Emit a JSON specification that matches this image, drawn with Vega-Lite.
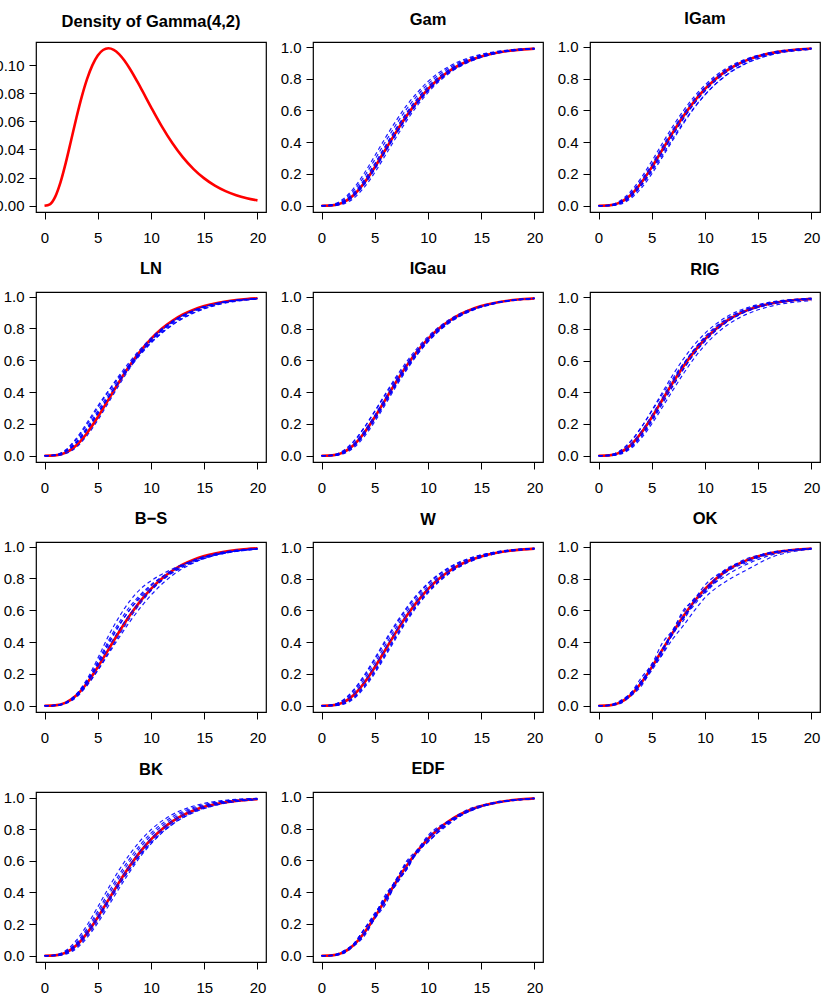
{
"$schema": "https://vega.github.io/schema/vega-lite/v6.json",
"background": "white",
"padding": {"left": -6, "top": 10, "right": 0, "bottom": 0},
"config": {
  "font": "Liberation Sans",
  "view": {"stroke": "black", "strokeWidth": 1.2},
  "axis": {"domain": false, "grid": false, "tickColor": "black", "tickSize": 7, "tickWidth": 1, "labelColor": "black", "labelFont": "Liberation Sans", "labelFontSize": 15},
  "axisX": {"labelPadding": 11},
  "axisY": {"labelPadding": 5},
  "header": {"labelFont": "Liberation Sans", "labelFontSize": 16.5, "labelFontWeight": "bold", "labelColor": "black", "labelPadding": 12}
},
"data": {"values": [
{"panel":"Density of Gamma(4,2)","s":"red","x":[0,0.5,1,1.5,2,2.5,3,3.5,4,4.5,5,5.5,6,6.5,7,7.5,8,9,10,11,12,13,14,15,16,17,18,19,20],"y":[0,0.00101,0.00632,0.01661,0.03066,0.04663,0.06276,0.07761,0.09022,0.10005,0.10688,0.11079,0.11202,0.11092,0.10789,0.10335,0.09768,0.08436,0.07019,0.05666,0.04462,0.03441,0.02607,0.01945,0.01431,0.01041,0.0075,0.00535,0.00378]},
{"panel":"Gam","s":"red","x":[0,1,2,3,4,5,6,7,8,9,10,11,12,13,14,15,16,17,18,19,20],"y":[0,0.0018,0.019,0.0656,0.1429,0.2424,0.3528,0.4634,0.5665,0.6577,0.735,0.7983,0.8488,0.8882,0.9182,0.9409,0.9576,0.9699,0.9788,0.9851,0.9897]},
{"panel":"IGam","s":"red","x":[0,1,2,3,4,5,6,7,8,9,10,11,12,13,14,15,16,17,18,19,20],"y":[0,0.0018,0.019,0.0656,0.1429,0.2424,0.3528,0.4634,0.5665,0.6577,0.735,0.7983,0.8488,0.8882,0.9182,0.9409,0.9576,0.9699,0.9788,0.9851,0.9897]},
{"panel":"LN","s":"red","x":[0,1,2,3,4,5,6,7,8,9,10,11,12,13,14,15,16,17,18,19,20],"y":[0,0.0018,0.019,0.0656,0.1429,0.2424,0.3528,0.4634,0.5665,0.6577,0.735,0.7983,0.8488,0.8882,0.9182,0.9409,0.9576,0.9699,0.9788,0.9851,0.9897]},
{"panel":"IGau","s":"red","x":[0,1,2,3,4,5,6,7,8,9,10,11,12,13,14,15,16,17,18,19,20],"y":[0,0.0018,0.019,0.0656,0.1429,0.2424,0.3528,0.4634,0.5665,0.6577,0.735,0.7983,0.8488,0.8882,0.9182,0.9409,0.9576,0.9699,0.9788,0.9851,0.9897]},
{"panel":"RIG","s":"red","x":[0,1,2,3,4,5,6,7,8,9,10,11,12,13,14,15,16,17,18,19,20],"y":[0,0.0018,0.019,0.0656,0.1429,0.2424,0.3528,0.4634,0.5665,0.6577,0.735,0.7983,0.8488,0.8882,0.9182,0.9409,0.9576,0.9699,0.9788,0.9851,0.9897]},
{"panel":"B−S","s":"red","x":[0,1,2,3,4,5,6,7,8,9,10,11,12,13,14,15,16,17,18,19,20],"y":[0,0.0018,0.019,0.0656,0.1429,0.2424,0.3528,0.4634,0.5665,0.6577,0.735,0.7983,0.8488,0.8882,0.9182,0.9409,0.9576,0.9699,0.9788,0.9851,0.9897]},
{"panel":"W","s":"red","x":[0,1,2,3,4,5,6,7,8,9,10,11,12,13,14,15,16,17,18,19,20],"y":[0,0.0018,0.019,0.0656,0.1429,0.2424,0.3528,0.4634,0.5665,0.6577,0.735,0.7983,0.8488,0.8882,0.9182,0.9409,0.9576,0.9699,0.9788,0.9851,0.9897]},
{"panel":"OK","s":"red","x":[0,1,2,3,4,5,6,7,8,9,10,11,12,13,14,15,16,17,18,19,20],"y":[0,0.0018,0.019,0.0656,0.1429,0.2424,0.3528,0.4634,0.5665,0.6577,0.735,0.7983,0.8488,0.8882,0.9182,0.9409,0.9576,0.9699,0.9788,0.9851,0.9897]},
{"panel":"BK","s":"red","x":[0,1,2,3,4,5,6,7,8,9,10,11,12,13,14,15,16,17,18,19,20],"y":[0,0.0018,0.019,0.0656,0.1429,0.2424,0.3528,0.4634,0.5665,0.6577,0.735,0.7983,0.8488,0.8882,0.9182,0.9409,0.9576,0.9699,0.9788,0.9851,0.9897]},
{"panel":"EDF","s":"red","x":[0,1,2,3,4,5,6,7,8,9,10,11,12,13,14,15,16,17,18,19,20],"y":[0,0.0018,0.019,0.0656,0.1429,0.2424,0.3528,0.4634,0.5665,0.6577,0.735,0.7983,0.8488,0.8882,0.9182,0.9409,0.9576,0.9699,0.9788,0.9851,0.9897]},

{"panel":"Gam","s":"b1","x":[0,1,2,3,4,5,6,7,8,9,10,12,14,16,20],"y":[0,0.005,0.033,0.094,0.183,0.290,0.403,0.511,0.610,0.695,0.767,0.869,0.930,0.964,0.991]},
{"panel":"Gam","s":"b2","x":[0,1,2,3,4,5,6,7,8,9,10,12,14,16,20],"y":[0,0.003,0.026,0.080,0.163,0.266,0.378,0.487,0.588,0.677,0.751,0.859,0.924,0.961,0.990]},
{"panel":"Gam","s":"b3","x":[0,1,2,3,4,5,6,7,8,9,10,12,14,16,20],"y":[0,0.001,0.015,0.057,0.131,0.228,0.338,0.449,0.553,0.646,0.726,0.843,0.915,0.956,0.989]},
{"panel":"Gam","s":"b4","x":[0,1,2,3,4,5,6,7,8,9,10,12,14,16,20],"y":[0,0,0.010,0.046,0.115,0.209,0.318,0.430,0.536,0.631,0.713,0.835,0.910,0.953,0.989]},
{"panel":"Gam","s":"b5","x":[0,1,2,3,4,5,6,7,8,9,10,12,14,16,20],"y":[0,0.002,0.020,0.066,0.142,0.238,0.346,0.454,0.555,0.646,0.723,0.839,0.911,0.953,0.988]},
{"panel":"Gam","s":"b6","x":[0,1,2,3,4,5,6,7,8,9,10,12,14,16,20],"y":[0,0.003,0.024,0.0755,0.157,0.259,0.3705,0.480,0.5815,0.6705,0.7465,0.856,0.9225,0.960,0.990]},
{"panel":"Gam","s":"b7","x":[0,1,2,3,4,5,6,7,8,9,10,12,14,16,20],"y":[0,0.0015,0.018,0.063,0.139,0.2375,0.348,0.4585,0.562,0.654,0.732,0.847,0.917,0.957,0.9895]},
{"panel":"Gam","s":"b8","x":[0,1,2,3,4,5,6,7,8,9,10,12,14,16,20],"y":[0,0.007,0.040,0.108,0.203,0.314,0.428,0.535,0.632,0.713,0.783,0.879,0.936,0.967,0.992]},

{"panel":"IGam","s":"b1","x":[0,1,2,3,4,5,6,7,8,9,10,12,14,16,20],"y":[0,0.004,0.030,0.088,0.175,0.280,0.393,0.502,0.601,0.688,0.760,0.865,0.927,0.963,0.991]},
{"panel":"IGam","s":"b2","x":[0,1,2,3,4,5,6,7,8,9,10,12,14,16,20],"y":[0,0.003,0.024,0.077,0.159,0.261,0.373,0.483,0.584,0.673,0.748,0.857,0.923,0.960,0.990]},
{"panel":"IGam","s":"b3","x":[0,1,2,3,4,5,6,7,8,9,10,12,14,16,20],"y":[0,0.001,0.014,0.054,0.127,0.223,0.333,0.444,0.549,0.643,0.722,0.841,0.914,0.955,0.989]},
{"panel":"IGam","s":"b4","x":[0,1,2,3,4,5,6,7,8,9,10,12,14,16,20],"y":[0,0,0.009,0.044,0.109,0.200,0.306,0.415,0.520,0.616,0.698,0.823,0.902,0.948,0.987]},
{"panel":"IGam","s":"b5","x":[0,1,2,3,4,5,6,7,8,9,10,12,14,16,20],"y":[0,0.001,0.016,0.056,0.125,0.215,0.318,0.425,0.527,0.619,0.699,0.821,0.899,0.946,0.983]},
{"panel":"IGam","s":"b6","x":[0,1,2,3,4,5,6,7,8,9,10,12,14,16,20],"y":[0,0.0025,0.022,0.071,0.151,0.2515,0.363,0.473,0.575,0.6655,0.741,0.853,0.9205,0.959,0.990]},
{"panel":"IGam","s":"b7","x":[0,1,2,3,4,5,6,7,8,9,10,12,14,16,20],"y":[0,0.0015,0.0165,0.0605,0.134,0.2305,0.3395,0.449,0.552,0.6445,0.723,0.840,0.9125,0.954,0.9885]},

{"panel":"LN","s":"b1","x":[0,1,2,3,4,5,6,7,8,9,10,12,14,16,20],"y":[0,0.005,0.035,0.102,0.196,0.301,0.405,0.503,0.591,0.670,0.739,0.845,0.913,0.954,0.988]},
{"panel":"LN","s":"b2","x":[0,1,2,3,4,5,6,7,8,9,10,12,14,16,20],"y":[0,0.004,0.037,0.110,0.208,0.312,0.408,0.494,0.572,0.644,0.711,0.822,0.897,0.944,0.985]},
{"panel":"LN","s":"b3","x":[0,1,2,3,4,5,6,7,8,9,10,12,14,16,20],"y":[0,0.002,0.024,0.079,0.162,0.262,0.368,0.470,0.566,0.651,0.725,0.838,0.910,0.953,0.988]},
{"panel":"LN","s":"b4","x":[0,1,2,3,4,5,6,7,8,9,10,12,14,16,20],"y":[0,0.001,0.014,0.054,0.127,0.223,0.333,0.444,0.549,0.643,0.722,0.841,0.914,0.955,0.989]},
{"panel":"LN","s":"b5","x":[0,1,2,3,4,5,6,7,8,9,10,12,14,16,20],"y":[0,0.003,0.028,0.086,0.170,0.268,0.368,0.464,0.554,0.635,0.708,0.823,0.899,0.946,0.986]},
{"panel":"LN","s":"b6","x":[0,1,2,3,4,5,6,7,8,9,10,12,14,16,20],"y":[0,0.0035,0.0295,0.0905,0.179,0.2815,0.3865,0.4865,0.5785,0.6605,0.732,0.8415,0.9115,0.9535,0.988]},
{"panel":"LN","s":"b7","x":[0,1,2,3,4,5,6,7,8,9,10,12,14,16,20],"y":[0,0.0025,0.0255,0.082,0.1675,0.2675,0.3705,0.469,0.5605,0.6435,0.7165,0.8315,0.9055,0.9495,0.987]},

{"panel":"IGau","s":"b1","x":[0,1,2,3,4,5,6,7,8,9,10,12,14,16,20],"y":[0,0.004,0.030,0.089,0.177,0.281,0.390,0.496,0.592,0.677,0.749,0.856,0.921,0.959,0.990]},
{"panel":"IGau","s":"b2","x":[0,1,2,3,4,5,6,7,8,9,10,12,14,16,20],"y":[0,0.003,0.028,0.087,0.174,0.277,0.383,0.485,0.579,0.662,0.735,0.844,0.914,0.955,0.989]},
{"panel":"IGau","s":"b3","x":[0,1,2,3,4,5,6,7,8,9,10,12,14,16,20],"y":[0,0.001,0.015,0.057,0.131,0.228,0.338,0.449,0.553,0.646,0.726,0.843,0.915,0.956,0.989]},
{"panel":"IGau","s":"b4","x":[0,1,2,3,4,5,6,7,8,9,10,12,14,16,20],"y":[0,0,0.011,0.049,0.119,0.214,0.323,0.435,0.540,0.635,0.716,0.837,0.911,0.954,0.989]},
{"panel":"IGau","s":"b5","x":[0,1,2,3,4,5,6,7,8,9,10,12,14,16,20],"y":[0,0.002,0.017,0.061,0.134,0.229,0.336,0.444,0.547,0.638,0.717,0.835,0.909,0.952,0.988]},
{"panel":"IGau","s":"b6","x":[0,1,2,3,4,5,6,7,8,9,10,12,14,16,20],"y":[0,0.0025,0.0225,0.073,0.154,0.2545,0.364,0.4725,0.5725,0.6615,0.7375,0.8495,0.918,0.9575,0.9895]},
{"panel":"IGau","s":"b7","x":[0,1,2,3,4,5,6,7,8,9,10,12,14,16,20],"y":[0,0.0015,0.0195,0.068,0.1465,0.2455,0.353,0.460,0.5595,0.6485,0.7255,0.8405,0.9125,0.9545,0.989]},

{"panel":"RIG","s":"b1","x":[0,1,2,3,4,5,6,7,8,9,10,12,14,16,20],"y":[0,0.004,0.029,0.087,0.176,0.285,0.400,0.512,0.613,0.700,0.772,0.875,0.935,0.967,0.993]},
{"panel":"RIG","s":"b2","x":[0,1,2,3,4,5,6,7,8,9,10,12,14,16,20],"y":[0,0.002,0.017,0.058,0.132,0.232,0.348,0.466,0.576,0.672,0.751,0.863,0.929,0.964,0.992]},
{"panel":"RIG","s":"b3","x":[0,1,2,3,4,5,6,7,8,9,10,12,14,16,20],"y":[0,0.001,0.014,0.054,0.127,0.223,0.333,0.444,0.549,0.643,0.722,0.841,0.914,0.955,0.989]},
{"panel":"RIG","s":"b4","x":[0,1,2,3,4,5,6,7,8,9,10,12,14,16,20],"y":[0,0,0.009,0.044,0.109,0.200,0.306,0.415,0.520,0.616,0.698,0.820,0.895,0.940,0.978]},
{"panel":"RIG","s":"b5","x":[0,1,2,3,4,5,6,7,8,9,10,12,14,16,20],"y":[0,0.004,0.029,0.090,0.178,0.281,0.388,0.490,0.583,0.666,0.738,0.846,0.915,0.955,0.989]},
{"panel":"RIG","s":"b6","x":[0,1,2,3,4,5,6,7,8,9,10,12,14,16,20],"y":[0,0.0025,0.0215,0.0705,0.1515,0.254,0.3665,0.478,0.581,0.6715,0.747,0.858,0.9245,0.961,0.991]},
{"panel":"RIG","s":"b7","x":[0,1,2,3,4,5,6,7,8,9,10,12,14,16,20],"y":[0,0.001,0.013,0.051,0.1205,0.216,0.327,0.4405,0.548,0.644,0.7245,0.8415,0.912,0.952,0.985]},

{"panel":"B−S","s":"b1","x":[0,1,2,3,4,5,6,7,8,9,10,12,14,16,20],"y":[0,0.002,0.021,0.074,0.168,0.297,0.438,0.558,0.657,0.733,0.785,0.859,0.913,0.950,0.986]},
{"panel":"B−S","s":"b2","x":[0,1,2,3,4,5,6,7,8,9,10,12,14,16,20],"y":[0,0.002,0.020,0.071,0.158,0.277,0.408,0.523,0.622,0.698,0.760,0.849,0.908,0.946,0.985]},
{"panel":"B−S","s":"b3","x":[0,1,2,3,4,5,6,7,8,9,10,12,14,16,20],"y":[0,0.001,0.014,0.054,0.127,0.223,0.333,0.444,0.549,0.643,0.722,0.841,0.914,0.955,0.989]},
{"panel":"B−S","s":"b4","x":[0,1,2,3,4,5,6,7,8,9,10,12,14,16,20],"y":[0,0.002,0.017,0.060,0.131,0.222,0.325,0.428,0.527,0.616,0.695,0.819,0.898,0.946,0.986]},
{"panel":"B−S","s":"b5","x":[0,1,2,3,4,5,6,7,8,9,10,12,14,16,20],"y":[0,0.002,0.019,0.069,0.153,0.267,0.393,0.508,0.602,0.678,0.740,0.837,0.903,0.946,0.985]},
{"panel":"B−S","s":"b6","x":[0,1,2,3,4,5,6,7,8,9,10,12,14,16,20],"y":[0,0.0015,0.0175,0.064,0.1475,0.260,0.3855,0.501,0.603,0.688,0.7535,0.850,0.9135,0.9525,0.9875]},
{"panel":"B−S","s":"b7","x":[0,1,2,3,4,5,6,7,8,9,10,12,14,16,20],"y":[0,0.002,0.0185,0.0655,0.1445,0.2495,0.3665,0.4755,0.5745,0.657,0.7275,0.834,0.903,0.946,0.9855]},

{"panel":"W","s":"b1","x":[0,1,2,3,4,5,6,7,8,9,10,12,14,16,20],"y":[0,0.005,0.033,0.094,0.183,0.290,0.403,0.511,0.610,0.695,0.767,0.869,0.930,0.964,0.991]},
{"panel":"W","s":"b2","x":[0,1,2,3,4,5,6,7,8,9,10,12,14,16,20],"y":[0,0.004,0.027,0.082,0.167,0.271,0.383,0.492,0.593,0.680,0.754,0.861,0.925,0.962,0.991]},
{"panel":"W","s":"b3","x":[0,1,2,3,4,5,6,7,8,9,10,12,14,16,20],"y":[0,0.002,0.022,0.071,0.151,0.252,0.363,0.473,0.575,0.665,0.741,0.853,0.921,0.959,0.990]},
{"panel":"W","s":"b4","x":[0,1,2,3,4,5,6,7,8,9,10,12,14,16,20],"y":[0,0.001,0.014,0.054,0.127,0.223,0.333,0.444,0.549,0.643,0.722,0.841,0.914,0.955,0.989]},
{"panel":"W","s":"b5","x":[0,1,2,3,4,5,6,7,8,9,10,12,14,16,20],"y":[0,0,0.008,0.043,0.111,0.204,0.313,0.425,0.532,0.628,0.710,0.833,0.909,0.952,0.988]},
{"panel":"W","s":"b6","x":[0,1,2,3,4,5,6,7,8,9,10,12,14,16,20],"y":[0,0,0.011,0.049,0.119,0.214,0.323,0.435,0.540,0.635,0.716,0.837,0.911,0.954,0.989]},
{"panel":"W","s":"b7","x":[0,1,2,3,4,5,6,7,8,9,10,12,14,16,20],"y":[0,0.005,0.035,0.099,0.192,0.299,0.413,0.521,0.619,0.703,0.773,0.873,0.932,0.965,0.992]},

{"panel":"OK","s":"b1","x":[0,1,2,3,4,5,6,7,8,9,10,12,14,16,20],"y":[0,0.004,0.030,0.077,0.175,0.261,0.395,0.480,0.603,0.672,0.760,0.857,0.928,0.960,0.991]},
{"panel":"OK","s":"b2","x":[0,1,2,3,4,5,6,7,8,9,10,12,14,16,20],"y":[0,0.001,0.012,0.060,0.121,0.233,0.325,0.456,0.539,0.651,0.716,0.846,0.911,0.957,0.989]},
{"panel":"OK","s":"b3","x":[0,1,2,3,4,5,6,7,8,9,10,12,14,16,20],"y":[0,0.002,0.019,0.061,0.133,0.222,0.323,0.423,0.507,0.598,0.680,0.784,0.858,0.928,0.985]},
{"panel":"OK","s":"b4","x":[0,1,2,3,4,5,6,7,8,9,10,12,14,16,20],"y":[0,0.003,0.026,0.079,0.153,0.244,0.351,0.477,0.590,0.675,0.736,0.863,0.916,0.964,0.990]},
{"panel":"OK","s":"b5","x":[0,1,2,3,4,5,6,7,8,9,10,12,14,16,20],"y":[0,0.002,0.021,0.078,0.149,0.261,0.352,0.467,0.551,0.651,0.709,0.840,0.904,0.953,0.988]},
{"panel":"OK","s":"b6","x":[0,1,2,3,4,5,6,7,8,9,10,12,14,16,20],"y":[0,0.003,0.0245,0.069,0.154,0.2415,0.359,0.4515,0.555,0.635,0.720,0.8205,0.893,0.944,0.988]},
{"panel":"OK","s":"b7","x":[0,1,2,3,4,5,6,7,8,9,10,12,14,16,20],"y":[0,0.002,0.019,0.0695,0.137,0.2385,0.338,0.4665,0.5645,0.663,0.726,0.8545,0.9135,0.9605,0.9895]},

{"panel":"BK","s":"b1","x":[0,1,2,3,4,5,6,7,8,9,10,12,14,16,20],"y":[0,0.005,0.033,0.098,0.194,0.308,0.427,0.541,0.641,0.727,0.796,0.892,0.946,0.974,0.995]},
{"panel":"BK","s":"b2","x":[0,1,2,3,4,5,6,7,8,9,10,12,14,16,20],"y":[0,0.003,0.027,0.084,0.173,0.282,0.399,0.512,0.614,0.702,0.775,0.878,0.937,0.969,0.993]},
{"panel":"BK","s":"b3","x":[0,1,2,3,4,5,6,7,8,9,10,12,14,16,20],"y":[0,0.001,0.014,0.054,0.127,0.223,0.333,0.444,0.549,0.643,0.722,0.841,0.914,0.955,0.989]},
{"panel":"BK","s":"b4","x":[0,1,2,3,4,5,6,7,8,9,10,12,14,16,20],"y":[0,0,0.010,0.046,0.114,0.207,0.314,0.425,0.530,0.626,0.707,0.830,0.907,0.951,0.988]},
{"panel":"BK","s":"b5","x":[0,1,2,3,4,5,6,7,8,9,10,12,14,16,20],"y":[0,0.002,0.020,0.067,0.143,0.239,0.343,0.448,0.546,0.635,0.712,0.830,0.905,0.949,0.987]},
{"panel":"BK","s":"b6","x":[0,1,2,3,4,5,6,7,8,9,10,12,14,16,20],"y":[0,0.003,0.0235,0.076,0.1605,0.2655,0.380,0.4925,0.595,0.685,0.759,0.8665,0.930,0.9645,0.992]},
{"panel":"BK","s":"b7","x":[0,1,2,3,4,5,6,7,8,9,10,12,14,16,20],"y":[0,0.0015,0.0185,0.065,0.1435,0.2445,0.3565,0.4685,0.572,0.664,0.741,0.854,0.922,0.960,0.9905]},

{"panel":"EDF","s":"b1","x":[0,1,2,3,4,5,6,7,8,9,10,12,14,16,20],"y":[0,0.003,0.027,0.073,0.165,0.253,0.383,0.473,0.596,0.667,0.756,0.851,0.927,0.958,0.990]},
{"panel":"EDF","s":"b2","x":[0,1,2,3,4,5,6,7,8,9,10,12,14,16,20],"y":[0,0.001,0.012,0.059,0.121,0.232,0.323,0.456,0.541,0.653,0.714,0.847,0.910,0.957,0.989]},
{"panel":"EDF","s":"b3","x":[0,1,2,3,4,5,6,7,8,9,10,12,14,16,20],"y":[0,0.002,0.026,0.073,0.166,0.268,0.360,0.480,0.576,0.643,0.729,0.834,0.914,0.953,0.988]},
{"panel":"EDF","s":"b4","x":[0,1,2,3,4,5,6,7,8,9,10,12,14,16,20],"y":[0,0.002,0.022,0.071,0.138,0.246,0.352,0.446,0.549,0.656,0.719,0.829,0.914,0.957,0.988]},
{"panel":"EDF","s":"b5","x":[0,1,2,3,4,5,6,7,8,9,10,12,14,16,20],"y":[0,0.001,0.015,0.066,0.144,0.234,0.359,0.469,0.558,0.666,0.746,0.848,0.916,0.962,0.990]},
{"panel":"EDF","s":"b6","x":[0,1,2,3,4,5,6,7,8,9,10,12,14,16,20],"y":[0,0.0025,0.0265,0.073,0.1655,0.2605,0.3715,0.4765,0.586,0.655,0.7425,0.8425,0.9205,0.9555,0.989]},
{"panel":"EDF","s":"b7","x":[0,1,2,3,4,5,6,7,8,9,10,12,14,16,20],"y":[0,0.0015,0.017,0.065,0.1295,0.239,0.3375,0.451,0.545,0.6545,0.7165,0.838,0.912,0.957,0.9885]}
]},
"transform": [{"flatten": ["x", "y"]}],
"facet": {"field": "panel", "type": "nominal", "title": null,
  "sort": ["Density of Gamma(4,2)", "Gam", "IGam", "LN", "IGau", "RIG", "B−S", "W", "OK", "BK", "EDF"]},
"columns": 3,
"bounds": "flush",
"spacing": {"column": 47, "row": 80},
"spec": {
  "width": 230,
  "height": 170,
  "layer": [
    {
      "transform": [{"filter": "datum.s === 'red'"}],
      "mark": {"type": "line", "color": "#FF0000", "strokeWidth": 2.6, "interpolate": "monotone"},
      "encoding": {
        "x": {"field": "x", "type": "quantitative", "title": null, "scale": {"domain": [-0.8, 20.8], "nice": false, "zero": false}, "axis": {"values": [0, 5, 10, 15, 20]}},
        "y": {"field": "y", "type": "quantitative", "title": null, "scale": {"nice": false, "zero": false, "padding": 6.3}, "axis": {"tickCount": 5}},
        "order": {"field": "x", "type": "quantitative"}
      }
    },
    {
      "transform": [{"filter": "datum.s !== 'red'"}],
      "mark": {"type": "line", "color": "#0000FF", "strokeWidth": 1.2, "strokeDash": [4, 3], "opacity": 0.9, "interpolate": "monotone"},
      "encoding": {
        "x": {"field": "x", "type": "quantitative", "title": null, "scale": {"domain": [-0.8, 20.8], "nice": false, "zero": false}, "axis": {"values": [0, 5, 10, 15, 20]}},
        "y": {"field": "y", "type": "quantitative", "title": null, "scale": {"nice": false, "zero": false, "padding": 6.3}, "axis": {"tickCount": 5}},
        "detail": {"field": "s", "type": "nominal"},
        "order": {"field": "x", "type": "quantitative"}
      }
    }
  ]
},
"resolve": {"scale": {"y": "independent"}, "axis": {"x": "independent", "y": "independent"}}
}
